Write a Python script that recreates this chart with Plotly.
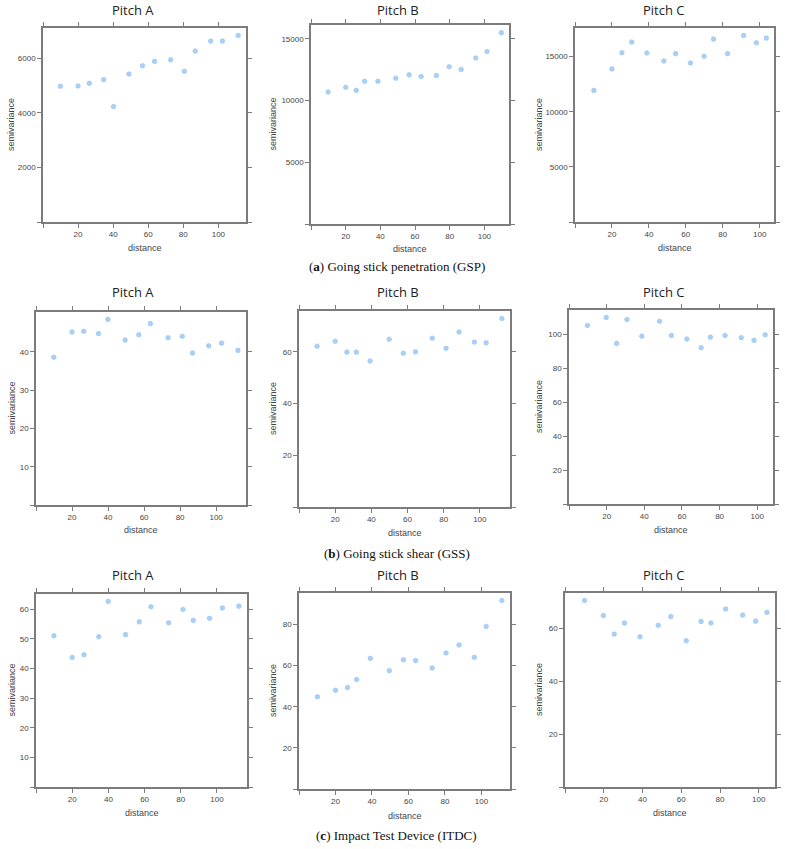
import plotly.graph_objects as go
import numpy as np

W, H = 785, 849

# ---------------- data ----------------
titles = ["Pitch A", "Pitch B", "Pitch C"]
captions = ["Going stick penetration (GSP)", "Going stick shear (GSS)", "Impact Test Device (ITDC)"]
caption_letters = ["a", "b", "c"]

gsp_a_dist = [9.9, 20, 26.4, 34.6, 40.2, 49.0, 56.7, 63.6, 72.8, 80.6, 86.8, 95.6, 102.3, 111.3]
gsp_a_gamma = [4976, 4988, 5085, 5220, 4232, 5427, 5732, 5890, 5951, 5524, 6268, 6634, 6634, 6841]
gsp_b_dist = [9.9, 20, 26.1, 30.9, 38.6, 48.9, 56.6, 63.5, 72.3, 79.7, 86.6, 95.0, 101.5, 109.8]
gsp_b_gamma = [10683, 11066, 10820, 11557, 11557, 11803, 12077, 11940, 12022, 12732, 12514, 13443, 13962, 15492]
gsp_c_dist = [10.2, 20, 25.4, 30.7, 38.9, 48.1, 54.5, 62.5, 69.9, 75.0, 82.6, 91.3, 98.2, 103.6]
gsp_c_gamma = [11937, 13889, 15360, 16321, 15330, 14610, 15270, 14430, 15030, 16592, 15270, 16922, 16261, 16682]

gss_a_dist = [9.9, 20, 26.5, 34.7, 39.9, 49.5, 57.1, 63.5, 73.3, 81.2, 86.9, 95.9, 103.0, 112.1]
gss_a_gamma = [38.6, 45.2, 45.4, 44.8, 48.5, 43.1, 44.5, 47.4, 43.7, 44.1, 39.7, 41.6, 42.3, 40.4]
gss_b_dist = [10.0, 20, 26.5, 31.7, 39.3, 49.9, 57.7, 64.4, 73.7, 81.3, 88.5, 97.0, 103.5, 112.2]
gss_b_gamma = [62.2, 64.1, 59.9, 59.9, 56.5, 64.9, 59.5, 60.0, 65.3, 61.4, 67.7, 63.8, 63.5, 72.9]
gss_c_dist = [9.8, 19.8, 25.3, 30.8, 38.7, 48.1, 54.4, 62.6, 70.2, 75.1, 82.9, 91.5, 98.3, 104.2]
gss_c_gamma = [105.1, 109.8, 94.5, 108.6, 98.8, 107.6, 99.2, 97.1, 92.0, 98.2, 99.2, 97.9, 96.3, 99.6]

itdc_a_dist = [9.9, 20, 26.5, 34.7, 39.9, 49.5, 57.1, 63.5, 73.3, 81.2, 86.9, 95.9, 103.0, 112.1]
itdc_a_gamma = [51.0, 43.7, 44.6, 50.7, 62.6, 51.4, 55.7, 60.8, 55.4, 59.9, 56.2, 56.9, 60.4, 61.0]
itdc_b_dist = [10.1, 20, 26.6, 31.6, 39.1, 49.5, 57.2, 63.9, 73.0, 80.6, 87.7, 96.1, 102.6, 111.2]
itdc_b_gamma = [44.8, 48.0, 49.3, 53.2, 63.5, 57.5, 62.8, 62.4, 58.8, 66.1, 70.0, 64.0, 79.0, 91.6]
itdc_c_dist = [10.1, 19.8, 25.4, 30.7, 38.7, 48.1, 54.6, 62.6, 70.2, 75.3, 82.9, 91.7, 98.4, 104.2]
itdc_c_gamma = [70.4, 64.7, 57.7, 61.9, 56.7, 61.0, 64.3, 55.2, 62.5, 61.9, 67.2, 64.9, 62.6, 65.9]

series = [
    [(gsp_a_dist, gsp_a_gamma), (gsp_b_dist, gsp_b_gamma), (gsp_c_dist, gsp_c_gamma)],
    [(gss_a_dist, gss_a_gamma), (gss_b_dist, gss_b_gamma), (gss_c_dist, gss_c_gamma)],
    [(itdc_a_dist, itdc_a_gamma), (itdc_b_dist, itdc_b_gamma), (itdc_c_dist, itdc_c_gamma)],
]

# ---------------- layout (pixel frames) ----------------
frames = [
    [(43, 246, 28, 222), (311, 509, 25, 224), (575, 774, 28, 222)],
    [(36, 246, 312, 505), (299, 510, 311, 507), (569, 773, 310, 504)],
    [(36, 247, 594, 787), (299, 510, 593, 789), (565, 775, 593, 787)],
]
y_steps = [[2000, 5000, 5000], [10, 20, 20], [10, 20, 20]]
title_y = [10, 292, 575]
title_x = [133, 398, 664]
xlab_y = [[248, 249, 248], [530, 532.5, 530], [813, 815.5, 813]]
ylab_x = [[11, 273, 539], [11, 273, 539], [11, 273, 539]]
caption_y = [266.5, 553, 835.5]
caption_x = 396.5

MARKER = "#a9d0f7"
MARKER_EDGE = "#93c2f1"
FRAME = "#7c7c7c"
TXT = "#454545"

def px(x):
    return x / W

def py(y):
    return 1 - y / H

fig = go.Figure()
annotations = []
layout_axes = {}
k = 0
for r in range(3):
    for c in range(3):
        k += 1
        dist, gamma = series[r][c]
        xmax = 1.04 * max(dist)
        ymax = 1.04 * max(gamma)
        xname = "x" if k == 1 else f"x{k}"
        yname = "y" if k == 1 else f"y{k}"
        fig.add_trace(go.Scatter(
            x=dist, y=gamma, mode="markers", xaxis=xname, yaxis=yname,
            marker=dict(size=4.6, color=MARKER, line=dict(width=0.6, color=MARKER_EDGE)),
            showlegend=False, hoverinfo="x+y"))
        l, rr, t, b = frames[r][c]
        xt = list(range(0, int(xmax) + 1, 20))
        xtt = ["" if v == 0 else str(v) for v in xt]
        step = y_steps[r][c]
        yt = [float(v) for v in np.arange(0, ymax * 0.99, step)]
        ytt = ["" if v == 0 else f"{v:g}" for v in yt]
        common = dict(showgrid=False, zeroline=False, showline=True, linecolor=FRAME,
                      linewidth=1.5, mirror="ticks", ticks="outside", ticklen=4,
                      tickwidth=1.2, tickcolor=FRAME,
                      tickfont=dict(family="Liberation Sans, Arial", size=8, color=TXT))
        layout_axes["xaxis" if k == 1 else f"xaxis{k}"] = dict(
            common, domain=[px(l), px(rr)], range=[0, xmax], tickvals=xt, ticktext=xtt,
            anchor=yname)
        layout_axes["yaxis" if k == 1 else f"yaxis{k}"] = dict(
            common, domain=[py(b), py(t)], range=[0, ymax], tickvals=yt, ticktext=ytt,
            anchor=xname)
        # panel title
        annotations.append(dict(text=titles[c], x=px(title_x[c]), y=py(title_y[r]),
                                xref="paper", yref="paper", showarrow=False,
                                xanchor="center", yanchor="middle",
                                font=dict(family="Open Sans", size=13, color="#222222")))
        # axis labels
        annotations.append(dict(text="distance", x=px((l + rr) / 2), y=py(xlab_y[r][c]),
                                xref="paper", yref="paper", showarrow=False,
                                xanchor="center", yanchor="middle",
                                font=dict(family="Liberation Sans, Arial", size=9, color=TXT)))
        annotations.append(dict(text="semivariance", x=px(ylab_x[r][c]), y=py((t + b) / 2),
                                xref="paper", yref="paper", showarrow=False, textangle=-90,
                                xanchor="center", yanchor="middle",
                                font=dict(family="Liberation Sans, Arial", size=9, color=TXT)))

for r in range(3):
    annotations.append(dict(text=f"(<b>{caption_letters[r]}</b>) {captions[r]}",
                            x=px(caption_x), y=py(caption_y[r]), xref="paper", yref="paper",
                            showarrow=False, xanchor="center", yanchor="middle",
                            font=dict(family="Liberation Serif, serif", size=13, color="#111111")))

fig.update_layout(width=W, height=H, margin=dict(l=0, r=0, t=0, b=0),
                  paper_bgcolor="white", plot_bgcolor="white",
                  annotations=annotations, **layout_axes)
fig.write_html("out.html")
